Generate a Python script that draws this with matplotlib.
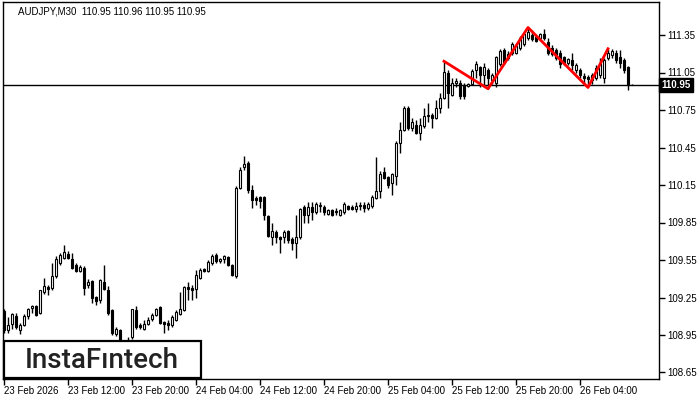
import numpy as np
import pandas as pd
import matplotlib
matplotlib.use("Agg")
import matplotlib.pyplot as plt
import matplotlib.transforms as mtransforms
from matplotlib.patches import Rectangle

# AUDJPY M30 candles
opens = [109.14, 108.99, 109.04, 109.10, 108.99, 109.03, 109.10, 109.17, 109.18, 109.13,
         109.29, 109.33, 109.33, 109.42, 109.53, 109.57, 109.60, 109.56, 109.51, 109.46,
         109.49, 109.35, 109.38, 109.25, 109.23, 109.37, 109.31, 109.15, 108.96, 108.99,
         108.89, 108.83, 108.93, 109.15, 109.03, 109.00, 109.04, 109.08, 109.11, 109.17,
         109.05, 109.05, 109.03, 109.07, 109.12, 109.15, 109.33, 109.33, 109.32, 109.41,
         109.48, 109.46, 109.53, 109.59, 109.54, 109.56, 109.57, 109.51, 109.42, 110.13,
         110.29, 110.33, 110.11, 110.05, 110.05, 110.05, 109.90, 109.73, 109.77, 109.73,
         109.73, 109.78, 109.72, 109.69, 109.73, 109.97, 109.91, 109.97, 109.93, 109.98,
         109.97, 109.92, 109.95, 109.94, 109.91, 109.93, 109.98, 109.97, 109.96, 109.98,
         109.99, 109.97, 109.98, 110.05, 110.10, 110.25, 110.21, 110.17, 110.22, 110.49,
         110.59, 110.77, 110.61, 110.63, 110.57, 110.62, 110.70, 110.71, 110.69, 110.77,
         110.85, 111.05, 110.87, 110.97, 110.97, 110.95, 110.94, 110.96, 111.07, 111.09,
         111.03, 111.07, 110.99, 110.97, 111.12, 111.23, 111.17, 111.21, 111.21, 111.25,
         111.28, 111.33, 111.35, 111.33, 111.33, 111.36, 111.29, 111.25, 111.23, 111.21,
         111.17, 111.13, 111.15, 111.07, 111.07, 111.02, 111.01, 110.99, 111.01, 111.03,
         111.01, 111.17, 111.19, 111.21, 111.17, 111.15, 111.09, 110.95]
highs = [109.16, 109.09, 109.13, 109.13, 109.05, 109.12, 109.17, 109.19, 109.19, 109.31,
         109.41, 109.35, 109.53, 109.58, 109.61, 109.67, 109.62, 109.61, 109.53, 109.51,
         109.50, 109.40, 109.39, 109.26, 109.40, 109.51, 109.34, 109.16, 109.01, 109.00,
         108.90, 108.93, 109.16, 109.18, 109.05, 109.07, 109.09, 109.13, 109.17, 109.18,
         109.06, 109.07, 109.11, 109.15, 109.29, 109.34, 109.37, 109.35, 109.47, 109.49,
         109.49, 109.55, 109.60, 109.61, 109.57, 109.59, 109.58, 109.52, 110.14, 110.29,
         110.38, 110.34, 110.15, 110.06, 110.06, 110.06, 109.91, 109.85, 109.79, 109.74,
         109.79, 109.79, 109.73, 109.91, 109.97, 109.99, 110.01, 110.01, 110.01, 110.01,
         109.99, 109.96, 109.96, 109.97, 109.96, 110.01, 109.99, 109.99, 110.01, 110.01,
         110.01, 110.01, 110.07, 110.37, 110.26, 110.29, 110.22, 110.25, 110.50, 110.65,
         110.78, 110.78, 110.69, 110.67, 110.69, 110.77, 110.81, 110.73, 110.83, 110.89,
         111.14, 111.07, 111.01, 111.01, 110.99, 110.97, 110.97, 111.08, 111.14, 111.10,
         111.13, 111.09, 111.05, 111.18, 111.24, 111.25, 111.22, 111.29, 111.28, 111.34,
         111.37, 111.41, 111.39, 111.35, 111.37, 111.40, 111.33, 111.27, 111.25, 111.23,
         111.18, 111.17, 111.21, 111.13, 111.09, 111.05, 111.03, 111.05, 111.11, 111.17,
         111.17, 111.24, 111.24, 111.23, 111.23, 111.17, 111.10, 110.96]
lows = [108.97, 108.97, 109.00, 109.00, 108.96, 109.02, 109.08, 109.13, 109.10, 109.12,
        109.28, 109.27, 109.31, 109.41, 109.51, 109.56, 109.56, 109.48, 109.45, 109.45,
        109.27, 109.33, 109.21, 109.19, 109.21, 109.31, 109.11, 108.95, 108.94, 108.86,
        108.80, 108.81, 108.92, 109.00, 109.00, 108.99, 109.03, 109.06, 109.10, 109.04,
        108.97, 108.99, 109.01, 109.06, 109.11, 109.14, 109.23, 109.23, 109.25, 109.40,
        109.45, 109.45, 109.51, 109.53, 109.53, 109.53, 109.50, 109.42, 109.41, 110.12,
        110.27, 110.09, 109.97, 109.99, 109.97, 109.87, 109.73, 109.67, 109.69, 109.61,
        109.69, 109.69, 109.63, 109.57, 109.72, 109.85, 109.85, 109.87, 109.92, 109.93,
        109.91, 109.91, 109.90, 109.91, 109.90, 109.92, 109.95, 109.95, 109.93, 109.95,
        109.93, 109.95, 109.97, 110.04, 110.05, 110.20, 110.13, 110.07, 110.15, 110.41,
        110.58, 110.59, 110.58, 110.56, 110.51, 110.61, 110.65, 110.61, 110.68, 110.73,
        110.84, 110.77, 110.86, 110.93, 110.84, 110.84, 110.93, 110.95, 111.01, 110.93,
        110.93, 110.92, 110.96, 110.93, 111.10, 111.12, 111.15, 111.19, 111.20, 111.23,
        111.26, 111.31, 111.30, 111.29, 111.31, 111.31, 111.19, 111.18, 111.15, 111.09,
        111.11, 111.11, 111.07, 111.05, 111.01, 110.95, 110.93, 110.96, 110.99, 111.01,
        110.97, 111.15, 111.17, 111.13, 111.09, 111.05, 110.91, 110.95]
closes = [108.99, 109.03, 109.12, 109.01, 109.03, 109.10, 109.16, 109.18, 109.11, 109.31,
          109.34, 109.32, 109.42, 109.56, 109.59, 109.61, 109.57, 109.49, 109.46, 109.49,
          109.33, 109.37, 109.25, 109.22, 109.39, 109.32, 109.13, 108.97, 109.00, 108.89,
          108.83, 108.89, 109.16, 109.01, 109.01, 109.04, 109.07, 109.11, 109.16, 109.05,
          109.04, 109.03, 109.09, 109.13, 109.16, 109.33, 109.32, 109.31, 109.43, 109.47,
          109.46, 109.53, 109.58, 109.54, 109.56, 109.58, 109.51, 109.43, 110.13, 110.27,
          110.32, 110.11, 110.03, 110.03, 110.02, 109.91, 109.74, 109.78, 109.73, 109.72,
          109.77, 109.71, 109.69, 109.73, 109.96, 109.91, 109.97, 109.93, 110.00, 109.99,
          109.93, 109.95, 109.91, 109.93, 109.95, 110.00, 109.96, 109.96, 109.98, 109.99,
          109.97, 110.00, 110.05, 110.10, 110.24, 110.21, 110.15, 110.24, 110.49, 110.59,
          110.77, 110.61, 110.65, 110.57, 110.63, 110.70, 110.71, 110.69, 110.77, 110.85,
          111.05, 110.89, 110.97, 110.98, 110.86, 110.86, 110.96, 111.06, 111.12, 111.03,
          111.09, 111.01, 111.03, 111.17, 111.22, 111.13, 111.20, 111.28, 111.26, 111.33,
          111.36, 111.37, 111.32, 111.30, 111.36, 111.33, 111.21, 111.20, 111.17, 111.12,
          111.13, 111.16, 111.11, 111.11, 111.03, 111.01, 111.00, 111.03, 111.09, 111.13,
          111.15, 111.21, 111.22, 111.15, 111.13, 111.07, 110.95, 110.95]

# pattern pivots (bar index, which end)
pivot_idx = [110, 121, 131, 146, 151]
pivot_kind = ['high', 'low', 'high', 'low', 'high']

last_price = 110.95
yticks = [108.65, 108.95, 109.25, 109.55, 109.85, 110.15, 110.45, 110.75, 111.05, 111.35]

times = pd.date_range('2026-02-23 04:00', periods=len(closes), freq='30min')

o = np.array(opens)
h = np.array(highs)
l = np.array(lows)
c = np.array(closes)
x = np.arange(len(c))

plt.rcParams['font.family'] = ['Liberation Sans', 'DejaVu Sans']

fig = plt.figure(figsize=(7, 4), dpi=100)
ax = fig.add_axes([3/700, 1 - 379/400, 656/700, 377/400])

# wicks then bodies
ax.vlines(x, l, h, color='black', lw=1, zorder=2)
up = c >= o
body_lo = np.minimum(o, c)
body_h = np.maximum(np.abs(c - o), 0.003)
ax.bar(x, body_h, bottom=body_lo, width=0.55,
       color=np.where(up, 'white', 'black'), edgecolor='black', lw=0.8, zorder=3)

# pattern line
py = [h[i] if k == 'high' else l[i] for i, k in zip(pivot_idx, pivot_kind)]
ax.plot(pivot_idx, py, color='red', lw=2, zorder=4)

ax.axhline(last_price, color='black', lw=1, zorder=1)

ax.set_xlim(-0.25, -0.25 + 656/4)
ax.set_ylim(108.598, 111.614)

tick_pos = list(range(0, len(c), 16))
tick_lab = []
for i in tick_pos:
    if i == 0:
        tick_lab.append(times[i].strftime('%d %b %Y'))
    else:
        tick_lab.append(times[i].strftime('%d %b %H:%M'))
ax.set_xticks(tick_pos)
ax.set_xticklabels(tick_lab, ha='left')
ax.set_yticks(yticks)
ax.set_yticklabels(['%.2f' % v for v in yticks])
ax.yaxis.tick_right()
ax.tick_params(axis='both', direction='out', length=4, width=1, labelsize=7, pad=2, colors='black')
ax.tick_params(axis='x', pad=1)
for s in ax.spines.values():
    s.set_linewidth(1)
    s.set_color('black')

# current price label
trans = mtransforms.blended_transform_factory(ax.transAxes, ax.transData)
ax.text(1.004, last_price, '%.2f' % last_price, transform=trans, ha='left', va='center',
        fontsize=7, color='white', fontweight='bold', zorder=6, clip_on=False,
        bbox=dict(boxstyle='square,pad=0.25', fc='black', ec='black'))

fig.text(18/700, 1 - 11/400, 'AUDJPY,M30  110.95 110.96 110.95 110.95', fontsize=7,
         va='center', ha='left', color='black')

# logo box
fig.add_artist(Rectangle((4/700, 1 - 378/400), 197/700, 37/400, transform=fig.transFigure,
                         fc='white', ec='black', lw=1.6, zorder=10))
fig.text(102/700, 1 - 360/400, 'InstaF\u0131ntech', fontsize=20, ha='center', va='center',
         family=['Roboto', 'DejaVu Sans'], fontweight='medium', color='#222222', zorder=11)

fig.savefig('out.png', dpi=100)
